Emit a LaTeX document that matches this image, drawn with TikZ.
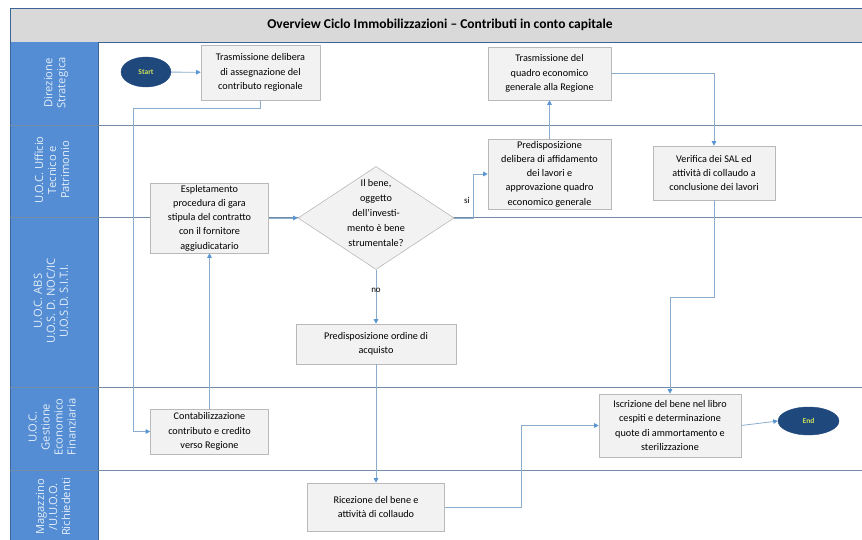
\documentclass[tikz,border=0pt]{standalone}
\usepackage{fontspec}
\setmainfont{Carlito}
\newfontfamily\lanefont{Open Sans}
\usetikzlibrary{shapes.geometric,arrows.meta}
\definecolor{laneblue}{RGB}{84,141,212}
\definecolor{lanedark}{RGB}{60,100,150}
\definecolor{titlegray}{RGB}{217,217,217}
\definecolor{boxfill}{RGB}{242,242,242}
\definecolor{boxborder}{RGB}{185,185,185}
\definecolor{navy}{RGB}{31,73,125}
\definecolor{startgreen}{RGB}{205,225,90}
\definecolor{lanecol}{RGB}{115,140,168}
\definecolor{conncol}{RGB}{140,172,205}
\definecolor{arrowcol}{RGB}{90,150,210}
\definecolor{lanetext}{RGB}{228,238,248}
\begin{document}
\begin{tikzpicture}[x=1pt,y=-1pt,
  box/.style={draw=boxborder, fill=boxfill, line width=0.6pt, align=center,
    inner sep=1pt, font=\fontsize{10.2}{14.2}\selectfont, text=black},
  term/.style={ellipse, fill=navy, draw=navy, text=startgreen,
    font=\fontsize{7.5}{9}\selectfont\bfseries, inner sep=0pt},
  conn/.style={draw=conncol, line width=0.8pt,
    -{Triangle[length=4.5pt,width=4.5pt,color=arrowcol]}},
  lanelbl/.style={rotate=90, text=lanetext, align=center,
    font=\lanefont\fontsize{11.2}{13}\selectfont},
  laneline/.style={draw=lanecol, line width=0.8pt},
  edgelbl/.style={font=\fontsize{9}{10}\selectfont, text=black, inner sep=1pt}]
\useasboundingbox (0,0) rectangle (862,540);
\fill[white] (0,0) rectangle (862,540);
% title bar
\draw[fill=titlegray, draw=lanedark, line width=0.8pt] (10,8) rectangle (870,42);
\node[font=\fontsize{13.5}{15}\selectfont\bfseries] (title) at (440,25)
  {Overview Ciclo Immobilizzazioni – Contributi in conto capitale};
% label column
\fill[laneblue] (10,42) rectangle (98,545);
\draw[lanedark, line width=0.8pt] (10,8) -- (10,545);
\draw[lanedark, line width=0.6pt] (98,42) -- (98,545);
% lane lines
\foreach \yy in {125,217,387,470} {
  \draw[laneline] (10,\yy) -- (870,\yy);
}
% lane labels
\node[lanelbl] (l1) at (56,83) {Direzione\\Strategica};
\node[lanelbl] (l2) at (52,170) {U.O.C. Ufficio\\Tecnico e\\Patrimonio};
\node[lanelbl] (l3) at (51,301) {U.O.C. ABS\\U.O.S. D. NOC/IC\\U.O.S.D. S.I.T.I.};
\node[lanelbl] (l4) at (52,427) {U.O.C.\\Gestione\\Economico\\Finanziaria};
\node[lanelbl] (l5) at (53,507) {Magazzino\\/U.U.O.O.\\Richiedenti};
% nodes
\node[term, minimum width=50pt, minimum height=30pt] (start) at (146,72) {Start};
\node[box, minimum width=119pt, minimum height=55pt] (tdel) at (260.5,72.5)
  {Trasmissione delibera\\di assegnazione del\\contributo regionale};
\node[box, minimum width=118pt, minimum height=70pt] (esp) at (209.5,218)
  {Espletamento\\procedura di gara\\stipula del contratto\\con il fornitore\\aggiudicatario};
\node[box, minimum width=118pt, minimum height=45pt] (cont) at (209.5,431.5)
  {Contabilizzazione\\contributo e credito\\verso Regione};
\node[diamond, draw=boxborder, fill=boxfill, line width=0.6pt, inner sep=0pt,
  minimum width=156pt, minimum height=103pt] (dia) at (376,218) {};
\node[align=center, font=\fontsize{10.2}{15}\selectfont, inner sep=0pt] (diat) at (376,213)
  {Il bene,\\oggetto\\dell'investi-\\mento è bene\\strumentale?};
\node[box, minimum width=123pt, minimum height=70pt] (pdel) at (549.5,174)
  {Predisposizione\\delibera di affidamento\\dei lavori e\\approvazione quadro\\economico generale};
\node[box, minimum width=123pt, minimum height=53pt] (tq) at (549.5,73.5)
  {Trasmissione del\\quadro economico\\generale alla Regione};
\node[box, minimum width=122pt, minimum height=54pt] (ver) at (714,173)
  {Verifica dei SAL ed\\attività di collaudo a\\conclusione dei lavori};
\node[box, minimum width=160pt, minimum height=40pt] (ord) at (376,344)
  {Predisposizione ordine di\\acquisto};
\node[box, minimum width=137pt, minimum height=48pt] (ric) at (376,507)
  {Ricezione del bene e\\attività di collaudo};
\node[box, minimum width=142pt, minimum height=63pt] (isc) at (670,425.5)
  {Iscrizione del bene nel libro\\cespiti e determinazione\\quote di ammortamento e\\sterilizzazione};
\node[term, minimum width=61pt, minimum height=28pt] (end) at (808.5,421) {End};
% bend coordinates
\coordinate (c1) at (133,108);
\coordinate (c2) at (473,218);
\coordinate (c3) at (670,297);
\coordinate (c4) at (521,425.5);
% connectors
\draw[conn] (start) -- (tdel);
\draw[conn] (tdel.south) |- (c1) |- (cont.west);
\draw[conn] (cont.north) -- (esp.south);
\draw[conn] (esp.east) -- (dia.west);
\draw[conn] (dia.east) -- (c2) |- node[edgelbl, pos=0.2, left=2pt] {si} (pdel.west);
\draw[conn] (pdel.north) -- (tq.south);
\draw[conn] (tq.east) -| (ver.north);
\draw[conn] (ver.south) |- (c3) -- (isc.north);
\draw[conn] (isc.east) -- (end.west);
\draw[conn] (dia.south) -- node[edgelbl, pos=0.38] {no} (ord.north);
\draw[conn] (ord.south) -- (ric.north);
\draw[conn] (ric.east) -| (c4) -- (isc.west);
\end{tikzpicture}
\end{document}
